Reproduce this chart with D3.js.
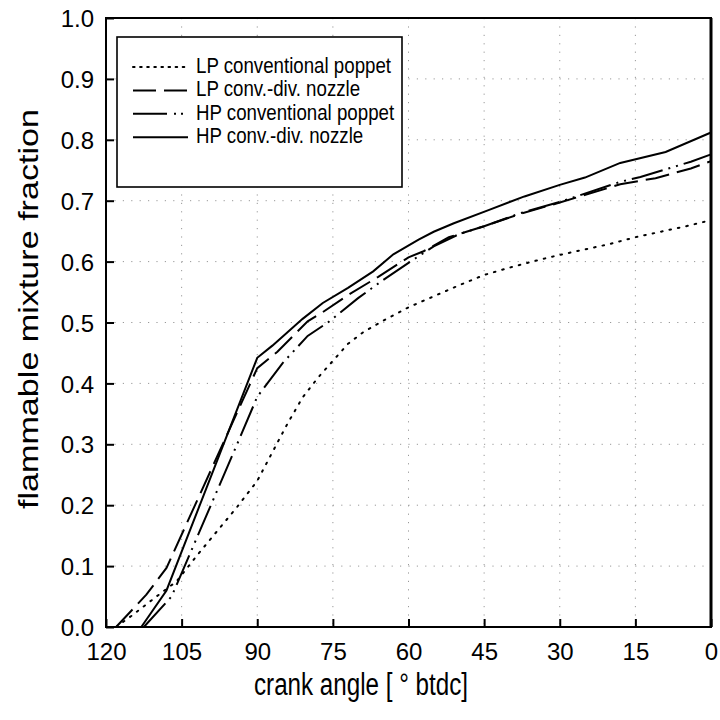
<!DOCTYPE html>
<html>
<head>
<meta charset="utf-8">
<script src="https://cdn.jsdelivr.net/npm/d3@7"></script>
<style>
  body { margin: 0; background: #fff; }
  text { font-family: "Liberation Sans", Arial, Helvetica, sans-serif; fill: #000; }
</style>
</head>
<body>
<svg id="chart" width="720" height="720"></svg>
<script>
const xTicks = [120, 105, 90, 75, 60, 45, 30, 15, 0];
const yTicks = [0, 0.1, 0.2, 0.3, 0.4, 0.5, 0.6, 0.7, 0.8, 0.9, 1.0];
const seriesNames = ["LP conventional poppet", "LP conv.-div. nozzle", "HP conventional poppet", "HP conv.-div. nozzle"];

// [crank angle, fraction]
const lpPoppet = [[118,0],[115,0.018],[110,0.05],[106,0.075],[102,0.117],[98,0.157],[94,0.197],[90,0.24],[87,0.287],[84,0.334],[81,0.377],[78,0.409],[75,0.437],[72,0.465],[69,0.484],[65,0.503],[60,0.525],[55,0.543],[50,0.561],[45,0.578],[40,0.59],[35,0.601],[30,0.611],[25,0.62],[20,0.629],[15,0.64],[10,0.649],[5,0.658],[0,0.668]];
const lpNozzle = [[118,0],[112,0.053],[108,0.097],[90,0.425],[86,0.452],[80,0.502],[77,0.517],[72,0.545],[66,0.575],[60,0.607],[57,0.617],[52,0.64],[45,0.658],[38,0.678],[30,0.697],[18,0.727],[11,0.737],[4,0.753],[0,0.765]];
const hpPoppet = [[112.5,0],[107,0.05],[94,0.3],[90,0.378],[85,0.433],[80,0.478],[76,0.5],[70,0.54],[65,0.57],[60,0.598],[55,0.625],[50,0.645],[45,0.658],[38,0.679],[30,0.698],[18,0.731],[14,0.739],[8,0.754],[4,0.764],[0,0.776]];
const hpNozzle = [[113,0],[108,0.06],[90,0.442],[87,0.462],[81,0.506],[77,0.532],[72,0.557],[67,0.584],[63,0.612],[58,0.636],[55,0.649],[51,0.663],[44,0.685],[37,0.707],[30,0.726],[25,0.738],[18,0.762],[9,0.78],[0,0.812]];

const series = [lpPoppet, lpNozzle, hpPoppet, hpNozzle];
const dashes = ["1.6,7", "24,8", "32,6,2,6,2,6", null];
const legendDashes = ["1.6,5.5", "23,8", "34,7,2,5,2,6", null];

const margin = { top: 18, right: 9, bottom: 93, left: 106 };
const W = 720, H = 720;

const x = d3.scaleLinear().domain([120, 0]).range([margin.left, W - margin.right]);
const y = d3.scaleLinear().domain([0, 1]).range([H - margin.bottom, margin.top]);

const svg = d3.select("#chart");

// dotted grid
const grid = svg.append("g").attr("stroke", "#999").attr("stroke-width", 1).attr("stroke-dasharray", "1.2,7.2");
grid.selectAll(".gx").data(xTicks.slice(1, -1)).join("line")
  .attr("x1", d => x(d)).attr("x2", d => x(d))
  .attr("y1", y(1)).attr("y2", y(0));
grid.selectAll(".gy").data(yTicks.slice(1, -1)).join("line")
  .attr("x1", x(120)).attr("x2", x(0))
  .attr("y1", d => y(d)).attr("y2", d => y(d));

// curves
const line = d3.line().x(d => x(d[0])).y(d => y(d[1]));
svg.append("g").selectAll("path").data(series).join("path")
  .attr("d", line)
  .attr("fill", "none")
  .attr("stroke", "#000")
  .attr("stroke-width", 2)
  .attr("stroke-linecap", (d, i) => i === 0 ? "round" : "butt")
  .attr("stroke-dasharray", (d, i) => dashes[i]);

// axes, ticks inside
const xAxis = svg.append("g")
  .attr("transform", `translate(0,${y(0)})`)
  .call(d3.axisBottom(x).tickValues(xTicks).tickSize(-8).tickPadding(16).tickFormat(d3.format("d")));
const yAxis = svg.append("g")
  .attr("transform", `translate(${x(120)},0)`)
  .call(d3.axisLeft(y).tickValues(yTicks).tickSize(-8).tickPadding(12).tickFormat(d3.format(".1f")));
[xAxis, yAxis].forEach(a => {
  a.select(".domain").remove();
  a.selectAll(".tick line").attr("stroke", "#000").attr("stroke-width", 2);
  a.selectAll(".tick text").style("font-size", "24px").attr("font-family", null);
});
yAxis.selectAll(".tick text").attr("dy", "0.36em");

// frame
svg.append("rect")
  .attr("x", x(120)).attr("y", y(1))
  .attr("width", x(0) - x(120)).attr("height", y(0) - y(1))
  .attr("fill", "none").attr("stroke", "#000").attr("stroke-width", 2);
svg.append("line")
  .attr("x1", x(0)).attr("x2", x(0)).attr("y1", y(1)).attr("y2", y(0))
  .attr("stroke", "#000").attr("stroke-width", 3);

// legend
const lg = svg.append("g");
lg.append("rect")
  .attr("x", 117).attr("y", 37).attr("width", 285).attr("height", 150)
  .attr("fill", "#fff").attr("stroke", "#000").attr("stroke-width", 1.6);
const rows = lg.selectAll(".row").data(seriesNames).join("g")
  .attr("transform", (d, i) => `translate(0,${73 + i * 23.4})`);
rows.append("line")
  .attr("x1", 133).attr("x2", 188).attr("y1", -6).attr("y2", -6)
  .attr("stroke", "#000").attr("stroke-width", 2)
  .attr("stroke-linecap", (d, i) => i === 0 ? "round" : "butt")
  .attr("stroke-dasharray", (d, i) => legendDashes[i]);
rows.append("text")
  .attr("transform", "translate(196,0) scale(0.85,1)")
  .style("font-size", "22px")
  .text(d => d);

// axis titles
svg.append("text")
  .attr("x", 361).attr("y", 695)
  .attr("text-anchor", "middle")
  .attr("textLength", 214).attr("lengthAdjust", "spacingAndGlyphs")
  .style("font-size", "31px")
  .text("crank angle [ ° btdc]");
svg.append("text")
  .attr("transform", "translate(38,309) rotate(-90) scale(1,0.8)")
  .attr("text-anchor", "middle")
  .attr("textLength", 400).attr("lengthAdjust", "spacingAndGlyphs")
  .style("font-size", "34px")
  .text("flammable mixture fraction");
</script>
</body>
</html>
